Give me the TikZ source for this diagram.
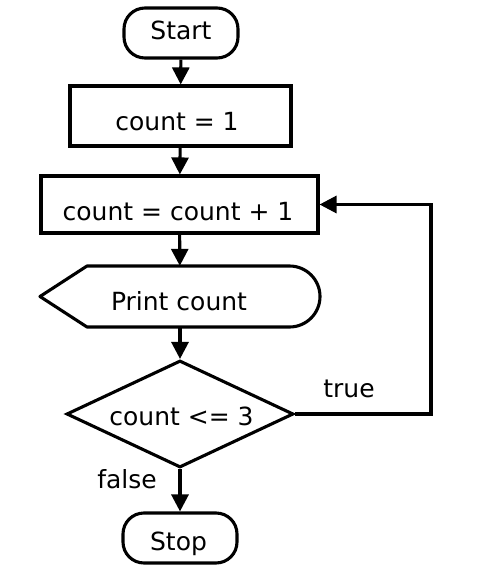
\documentclass[tikz,border=0pt]{standalone}
\usepackage{fontspec}
\setmainfont{DejaVu Sans}
\usetikzlibrary{arrows.meta,shapes.geometric}
\begin{document}
\begin{tikzpicture}[x=1pt,y=-1pt,
  every node/.style={font=\fontsize{25}{30}\selectfont},
  tip/.tip={Triangle[length=17pt,width=17pt]},
  line/.style={line width=3.1pt},
  arr/.style={line width=3.1pt,-tip},
  term/.style={draw,line width=3.1pt,rounded corners=21pt,minimum width=114pt,minimum height=50pt,inner sep=0pt},
  procbox/.style={draw,line width=3.1pt,inner sep=0pt},
  lbl/.style={inner sep=0pt,anchor=base}]
\useasboundingbox (0,0) rectangle (482,567);
\node[term] (start) at (181,33) {};
\node[lbl] at (181,40) {Start};
\node[procbox,minimum width=221pt,minimum height=60pt] (init) at (180.5,116) {};
\node[lbl] at (177,130) {count = 1};
\node[procbox,minimum width=277pt,minimum height=57pt] (inc) at (179.5,204.5) {};
\node[lbl] at (178,220) {count = count + 1};
\node[inner sep=0pt,minimum width=280pt,minimum height=61pt] (disp) at (180,296.5) {};
\draw[line,line join=round] (40,296.5) -- (87,266) {[rounded corners=30.5pt] -- (320,266) -- (320,327)} -- (87,327) -- cycle;
\node[lbl] at (179,310) {Print count};
\node[draw,line width=3.1pt,diamond,aspect=2.1,inner sep=0pt,minimum width=227pt,minimum height=107pt] (dec) at (180,414) {};
\node[lbl] at (181.5,425) {count <= 3};
\node[term] (stop) at (180,538) {};
\node[lbl] at (178.5,550) {Stop};
\coordinate (loop) at (431,414);
\node[lbl] (truel) at (349,397) {true};
\node[lbl] (falsel) at (127,488) {false};
\draw[arr] (start) -- (init);
\draw[arr] (init) -- (inc);
\draw[arr] (inc) -- (disp);
\draw[arr] (disp) -- (dec);
\draw[arr] (dec) -- (stop);
\draw[arr] (dec.east) -- (loop) |- (inc.east);
\end{tikzpicture}
\end{document}
